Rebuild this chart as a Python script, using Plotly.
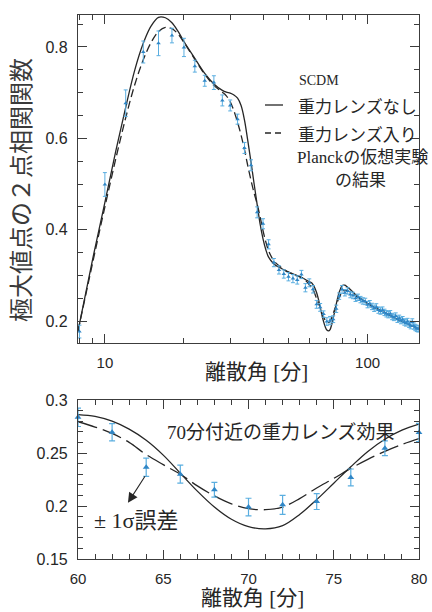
import plotly.graph_objects as go
import math

W, H = 432, 612

# ---------------- data ----------------
# simulated Planck measurements (angle in arcmin)
angle_pts = [8, 10, 12, 14, 16, 18, 20, 22, 24, 26, 28, 30, 32, 34, 36, 38, 40,
             42, 44, 46, 48, 50, 52, 54, 56, 58, 60, 62, 64, 66, 68, 70, 72, 74,
             76, 78, 80, 82, 84, 86, 88, 90, 92, 94, 96, 98, 100, 102, 104, 106,
             108, 110, 112, 114, 116, 118, 120, 122, 124, 126, 128, 130, 132,
             134, 136, 138, 140, 142, 144, 146, 148, 150, 152, 154, 156]
corr_pts = [0.177, 0.499, 0.677, 0.789, 0.808, 0.825, 0.799, 0.758, 0.726, 0.722,
            0.683, 0.672, 0.642, 0.579, 0.541, 0.438, 0.413, 0.368, 0.328, 0.312,
            0.303, 0.297, 0.293, 0.290, 0.302, 0.273, 0.2837, 0.2696, 0.2366,
            0.2300, 0.2153, 0.1990, 0.2011, 0.2042, 0.2269, 0.2545, 0.2693,
            0.262, 0.266, 0.258, 0.256, 0.250, 0.252, 0.247, 0.244, 0.243, 0.236,
            0.238, 0.232, 0.228, 0.231, 0.224, 0.222, 0.224, 0.219, 0.216, 0.214,
            0.216, 0.210, 0.208, 0.211, 0.204, 0.206, 0.201, 0.203, 0.198, 0.196,
            0.199, 0.193, 0.190, 0.198, 0.189, 0.186, 0.184, 0.183]
corr_err = [0.014, 0.026, 0.029, 0.024, 0.027, 0.016, 0.020, 0.013, 0.012, 0.015,
            0.012, 0.012, 0.011, 0.012, 0.012, 0.012, 0.011, 0.010, 0.009, 0.009,
            0.009, 0.009, 0.009, 0.009, 0.009, 0.009, 0.0087, 0.0082, 0.0086,
            0.0085, 0.0070, 0.0083, 0.0090, 0.0075, 0.0080, 0.0070, 0.0086,
            0.007, 0.007, 0.007, 0.007, 0.007, 0.007, 0.007, 0.007, 0.007, 0.007,
            0.007, 0.007, 0.007, 0.007, 0.007, 0.007, 0.007, 0.007, 0.007, 0.007,
            0.007, 0.007, 0.007, 0.007, 0.007, 0.007, 0.007, 0.007, 0.007, 0.007,
            0.007, 0.007, 0.007, 0.007, 0.007, 0.007, 0.007, 0.007]

# model curves, 60-80 arcmin (zoomed panel)
zoom_angle = [60, 61, 62, 63, 64, 65, 66, 67, 68, 69, 70, 71, 72, 73, 74, 75, 76,
              77, 78, 79, 80]
zoom_no_lens = [0.2862, 0.2845, 0.2800, 0.2725, 0.2620, 0.2480, 0.2310, 0.2140,
                0.1990, 0.1875, 0.1805, 0.1785, 0.1815, 0.1920, 0.2060, 0.2215,
                0.2370, 0.2515, 0.2630, 0.2715, 0.2772]
zoom_lens = [0.2795, 0.2745, 0.2685, 0.2600, 0.2485, 0.2390, 0.2300, 0.2190,
             0.2095, 0.2020, 0.1975, 0.1965, 0.1990, 0.2070, 0.2170, 0.2260,
             0.2355, 0.2440, 0.2515, 0.2580, 0.2635]

# model curves below 60 arcmin
low_angle = [7.9, 9, 10, 11, 12, 13, 14, 15, 16, 17, 18, 19, 20, 22, 24, 26, 28,
             29, 30, 31, 32, 33, 34, 35, 36, 37, 38, 39, 40, 41, 42, 44, 47, 50,
             55, 58]
low_no_lens = [0.178, 0.338, 0.460, 0.572, 0.668, 0.750, 0.808, 0.846, 0.865,
               0.864, 0.853, 0.834, 0.812, 0.775, 0.742, 0.719, 0.705, 0.701,
               0.699, 0.695, 0.688, 0.672, 0.640, 0.595, 0.548, 0.500, 0.455,
               0.412, 0.380, 0.356, 0.340, 0.325, 0.315, 0.307, 0.298, 0.291]
low_lens = [0.178, 0.330, 0.450, 0.555, 0.645, 0.718, 0.772, 0.810, 0.834, 0.843,
            0.840, 0.828, 0.810, 0.773, 0.740, 0.716, 0.701, 0.693, 0.680, 0.660,
            0.635, 0.607, 0.575, 0.540, 0.508, 0.480, 0.456, 0.428, 0.398, 0.373,
            0.354, 0.332, 0.317, 0.307, 0.297, 0.289]

# model curves above 80 arcmin
high_angle = [81, 82, 83, 85, 90, 100, 110, 120, 130, 140, 157]
high_no_lens = [0.2785, 0.2785, 0.2765, 0.272, 0.258, 0.239, 0.225, 0.214, 0.204,
                0.195, 0.183]
high_lens = [0.266, 0.2675, 0.2672, 0.265, 0.256, 0.239, 0.225, 0.214, 0.204,
             0.195, 0.183]

top_xticks = [10, 100]
top_xminor = [8, 9, 20, 30, 40, 50, 60, 70, 80, 90]
top_yticks = [0.2, 0.4, 0.6, 0.8]
bot_xticks = [60, 65, 70, 75, 80]
bot_yticks = [0.15, 0.2, 0.25, 0.3]
bot_yticktext = ["0.15", "0.2", "0.25", "0.3"]

# ---------------- helpers ----------------
def fx(p):
    return p / W

def fy(p):
    return 1 - p / H

INK = "#262626"
AX = "#3c3c3c"
PT = "#2f86c6"
EB = "#5aaee0"
SANS = "Liberation Sans, Arial, sans-serif"
JP = "Noto Sans CJK JP"
MIX = "Liberation Serif, Noto Sans CJK JP"

top_cx = low_angle + zoom_angle + high_angle
top_solid = low_no_lens + zoom_no_lens + high_no_lens
top_dash = low_lens + zoom_lens + high_lens

bx = [a for a in angle_pts if 60 <= a <= 80]
by = [v for a, v in zip(angle_pts, corr_pts) if 60 <= a <= 80]
be = [e for a, e in zip(angle_pts, corr_err) if 60 <= a <= 80]

fig = go.Figure()
fig.add_trace(go.Scatter(x=top_cx, y=top_solid, mode="lines", xaxis="x", yaxis="y",
                         line=dict(color=INK, width=1.3, shape="spline"), showlegend=False))
fig.add_trace(go.Scatter(x=top_cx, y=top_dash, mode="lines", xaxis="x", yaxis="y",
                         line=dict(color=INK, width=1.3, shape="spline", dash="8px,4px"),
                         showlegend=False))
fig.add_trace(go.Scatter(x=angle_pts, y=corr_pts, mode="markers", xaxis="x", yaxis="y",
                         marker=dict(symbol="triangle-up", size=4, color=PT),
                         error_y=dict(type="data", array=corr_err, color=EB,
                                      thickness=1, width=2),
                         showlegend=False))

fig.add_trace(go.Scatter(x=zoom_angle, y=zoom_no_lens, mode="lines", xaxis="x2", yaxis="y2",
                         line=dict(color=INK, width=1.3, shape="spline"), showlegend=False))
fig.add_trace(go.Scatter(x=zoom_angle, y=zoom_lens, mode="lines", xaxis="x2", yaxis="y2",
                         line=dict(color=INK, width=1.3, shape="spline", dash="20px,6px"),
                         showlegend=False))
fig.add_trace(go.Scatter(x=bx, y=by, mode="markers", xaxis="x2", yaxis="y2",
                         cliponaxis=False,
                         marker=dict(symbol="triangle-up", size=6, color=PT),
                         error_y=dict(type="data", array=be, color=EB,
                                      thickness=1.2, width=3),
                         showlegend=False))

common = dict(showline=True, linecolor=AX, linewidth=1.2, mirror="ticks",
              ticks="inside", tickcolor=AX, tickwidth=1, showgrid=False,
              zeroline=False, automargin=False, ticklabelstandoff=6)

fig.update_layout(
    width=W, height=H,
    margin=dict(l=0, r=0, t=0, b=0),
    paper_bgcolor="white", plot_bgcolor="white",
    xaxis=dict(type="log", range=[math.log10(7.9), math.log10(157)],
               domain=[fx(78), fx(419)], anchor="y",
               tickmode="array", tickvals=top_xticks,
               ticktext=[str(v) for v in top_xticks], ticklen=9,
               tickfont=dict(family=SANS, size=15, color=INK),
               minor=dict(tickmode="array", tickvals=top_xminor, ticklen=5,
                          ticks="inside", tickcolor=AX),
               **common),
    yaxis=dict(range=[0.152, 0.870], domain=[fy(343), fy(15)], anchor="x",
               tickmode="array", tickvals=top_yticks,
               ticktext=[f"{v:.1f}" for v in top_yticks], ticklen=9,
               tickfont=dict(family=SANS, size=16, color=INK),
               minor=dict(dtick=0.05, tick0=0, ticklen=5, ticks="inside", tickcolor=AX),
               **common),
    xaxis2=dict(range=[60, 80], domain=[fx(78), fx(419)], anchor="y2",
                tickmode="array", tickvals=bot_xticks,
                ticktext=[str(v) for v in bot_xticks], ticklen=9,
                tickfont=dict(family=SANS, size=15, color=INK),
                minor=dict(dtick=1, tick0=60, ticklen=5, ticks="inside", tickcolor=AX),
                **common),
    yaxis2=dict(range=[0.15, 0.30], domain=[fy(559), fy(400)], anchor="x2",
                tickmode="array", tickvals=bot_yticks, ticktext=bot_yticktext,
                ticklen=9, tickfont=dict(family=SANS, size=16, color=INK),
                minor=dict(dtick=0.01, tick0=0, ticklen=5, ticks="inside", tickcolor=AX),
                **common),
)

ann = []
def txt(x, y, s, size, family=JP, xanchor="left", angle=0, color=INK):
    ann.append(dict(x=fx(x), y=fy(y), xref="paper", yref="paper", text=s,
                    showarrow=False, xanchor=xanchor, yanchor="middle",
                    textangle=angle, font=dict(family=family, size=size, color=color)))

txt(19, 190, "極大値点の２点相関関数", 24, JP, "center", -90, "#3a3a3a")
txt(256, 372, "離散角 [分]", 21, MIX, "center")
txt(252, 598, "離散角 [分]", 21, MIX, "center")
txt(297, 81, "SCDM", 14, "Liberation Serif")
txt(296, 105, "重力レンズなし", 17, JP)
txt(296, 133, "重力レンズ入り", 17, JP)
txt(295, 157, "Planckの仮想実験", 17, MIX)
txt(360, 178, "の結果", 17, JP, "center")
txt(165, 432, "70分付近の重力レンズ効果", 19, MIX)
txt(92, 520, "± 1σ誤差", 22, MIX)

# arrow pointing to the error bar label
ann.append(dict(x=62.93, y=0.203, xref="x2", yref="y2", text="", showarrow=True,
                ax=18, ay=-28, arrowhead=2, arrowsize=1.8, arrowwidth=1.1,
                arrowcolor=INK, standoff=0))
fig.update_layout(annotations=ann)

fig.update_layout(shapes=[
    dict(type="line", xref="paper", yref="paper", x0=fx(265), x1=fx(283),
         y0=fy(105), y1=fy(105), line=dict(color=INK, width=1.3)),
    dict(type="line", xref="paper", yref="paper", x0=fx(265), x1=fx(283),
         y0=fy(133), y1=fy(133), line=dict(color=INK, width=1.3, dash="6px,4px")),
])

fig.write_html("out.html",
               config={"displayModeBar": False},
               post_script="document.body.style.margin='0';"
                           "document.body.style.padding='0';"
                           "document.body.style.overflow='hidden';")
